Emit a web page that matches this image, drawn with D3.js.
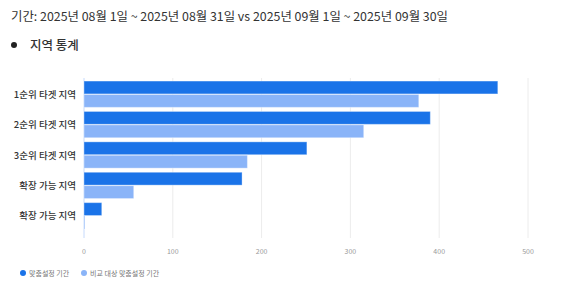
<!DOCTYPE html>
<html>
<head>
<meta charset="utf-8">
<script src="https://cdn.jsdelivr.net/npm/d3@7"></script>
<style>
  body { margin: 0; background: #fff; font-family: "Noto Sans CJK KR", "Noto Sans", sans-serif; }
</style>
</head>
<body>
<div id="chart"></div>
<script>
// data
var categories = ["1순위 타겟 지역", "2순위 타겟 지역", "3순위 타겟 지역", "확장 가능 지역", "확장 가능 지역 "];
var currentValues = [466, 390, 251, 178, 20];
var compareValues = [377, 315, 184, 56, 1];
var seriesNames = ["맞춤설정 기간", "비교 대상 맞춤설정 기간"];
var xTicks = [0, 100, 200, 300, 400, 500];

var svgWidth = 580;
var svgHeight = 288;

var margin = { top: 79, right: 52, bottom: 57, left: 84 };
var width = svgWidth - margin.left - margin.right;
var height = svgHeight - margin.top - margin.bottom;

var colors = ["#1a73e8", "#8ab4f8"];

var svg = d3.select("#chart")
  .append("svg")
  .attr("width", svgWidth)
  .attr("height", svgHeight);

// title
svg.append("text")
  .attr("x", 11)
  .attr("y", 21)
  .attr("font-size", 12.4)
  .attr("fill", "#333")
  .text("기간: 2025년 08월 1일 ~ 2025년 08월 31일 vs 2025년 09월 1일 ~ 2025년 09월 30일");

svg.append("circle")
  .attr("cx", 14)
  .attr("cy", 45)
  .attr("r", 3)
  .attr("fill", "#222");

svg.append("text")
  .attr("x", 30)
  .attr("y", 50)
  .attr("font-size", 12.5)
  .attr("font-weight", 500)
  .attr("fill", "#333")
  .text("지역 통계");

var chartGroup = svg.append("g")
  .attr("transform", `translate(${margin.left}, ${margin.top})`);

var xScale = d3.scaleLinear()
  .domain([0, 500])
  .range([0, 444]);

var yScale = d3.scaleBand()
  .domain(categories)
  .range([0, height])
  .paddingInner(0.1)
  .paddingOuter(0.05);

var subScale = d3.scaleBand()
  .domain([0, 1])
  .range([0, yScale.bandwidth()])
  .padding(0.04);

// gridlines
chartGroup.append("g")
  .selectAll("line")
  .data(xTicks)
  .enter()
  .append("line")
  .attr("x1", d => xScale(d))
  .attr("x2", d => xScale(d))
  .attr("y1", -1)
  .attr("y2", height + 7)
  .attr("stroke", d => d === 0 ? "#c6dafc" : "#ececec")
  .attr("stroke-width", 1);

// tick labels
chartGroup.append("g")
  .selectAll("text")
  .data(xTicks)
  .enter()
  .append("text")
  .attr("x", d => xScale(d))
  .attr("y", height + 23)
  .attr("text-anchor", "middle")
  .attr("font-size", 7)
  .attr("fill", "#999")
  .text(d => d);

// category labels
chartGroup.append("g")
  .selectAll("text")
  .data(categories)
  .enter()
  .append("text")
  .attr("x", -8)
  .attr("y", d => yScale(d) + yScale.bandwidth() / 2 + 3.5)
  .attr("text-anchor", "end")
  .attr("font-size", 9.5)
  .attr("font-weight", 500)
  .attr("fill", "#333")
  .text(d => d.trim());

// bars
var rows = categories.map((c, i) => ({ cat: c, vals: [currentValues[i], compareValues[i]] }));

var groups = chartGroup.selectAll(".row")
  .data(rows)
  .enter()
  .append("g")
  .attr("class", "row")
  .attr("transform", d => `translate(0, ${yScale(d.cat)})`);

groups.selectAll("rect")
  .data(d => d.vals)
  .enter()
  .append("rect")
  .attr("x", 0)
  .attr("y", (d, i) => subScale(i))
  .attr("width", d => xScale(d))
  .attr("height", subScale.bandwidth())
  .attr("fill", (d, i) => colors[i])
  .attr("stroke", "#fff")
  .attr("stroke-opacity", 0.35)
  .attr("stroke-width", 1);

// legend
var legend = svg.append("g")
  .attr("transform", "translate(23, 273)");

var legendX = [0, 61];
seriesNames.forEach(function(name, i) {
  legend.append("circle")
    .attr("cx", legendX[i])
    .attr("cy", 0)
    .attr("r", 3)
    .attr("fill", colors[i]);
  legend.append("text")
    .attr("x", legendX[i] + 6)
    .attr("y", 2.5)
    .attr("font-size", 7)
    .attr("fill", "#777")
    .text(name);
});
</script>
</body>
</html>
